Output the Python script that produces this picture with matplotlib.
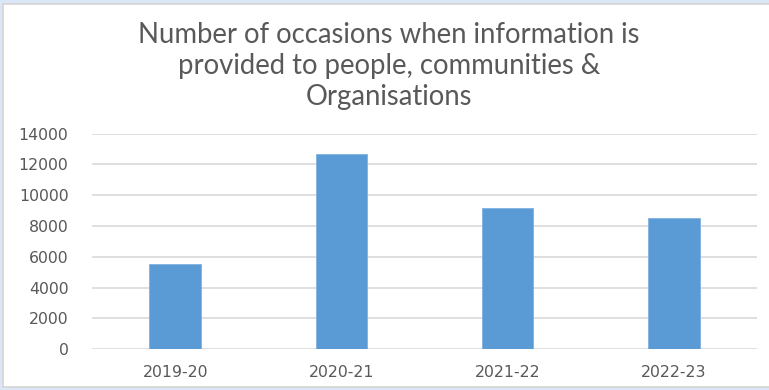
import matplotlib
matplotlib.use("Agg")
import matplotlib.pyplot as plt
from matplotlib.patches import Rectangle

years = ["2019-20", "2020-21", "2021-22", "2022-23"]
occasions = [5550, 12650, 9190, 8500]
y_ticks = [0, 2000, 4000, 6000, 8000, 10000, 12000, 14000]

title_lines = ["Number of occasions when information is",
               "provided to people, communities &",
               "Organisations"]

text_color = "#595959"
bar_color = "#5b9bd5"
grid_color = "#d9d9d9"

plt.rcParams["font.family"] = ["DejaVu Sans"]

fig = plt.figure(figsize=(7.69, 3.90), dpi=100)
fig.patch.set_facecolor("#dbe6f7")

# white chart panel
fig.patches.append(Rectangle((3 / 769, 1 - 387 / 390), 1.0, (387 - 4) / 390,
                             transform=fig.transFigure, facecolor="white",
                             edgecolor="#d4d4d4", linewidth=1.2, zorder=-5))

ax = fig.add_axes([92 / 769, 1 - 349.3 / 390, (757 - 92) / 769, (349.3 - 133.5) / 390])
ax.set_zorder(2)
ax.set_facecolor("none")
x = range(len(years))
ax.bar(x, occasions, width=0.31, color=bar_color, edgecolor="#7fb1e0",
       linewidth=0.6, zorder=3)
ax.set_xlim(-0.5, len(years) - 0.5)
ax.set_ylim(0, 14000)
ax.set_yticks(y_ticks)
ax.set_yticklabels([str(v) for v in y_ticks])
ax.set_xticks(list(x))
ax.set_xticklabels(years)
ax.grid(axis="y", color=grid_color, linewidth=1.2, zorder=0)
ax.set_axisbelow(True)
for s in ax.spines.values():
    s.set_visible(False)
ax.tick_params(axis="both", length=0, colors=text_color, labelsize=11.3)
ax.tick_params(axis="y", pad=17)
ax.tick_params(axis="x", pad=11)
for lbl in ax.get_xticklabels() + ax.get_yticklabels():
    lbl.set_family("DejaVu Sans")

for i, line in enumerate(title_lines):
    fig.text(389 / 769, 1 - (35 + 31 * i) / 390, line, ha="center", va="center",
             fontsize=19.8, color=text_color, family="Lato")

fig.savefig("out.png", dpi=100, facecolor=fig.get_facecolor())
